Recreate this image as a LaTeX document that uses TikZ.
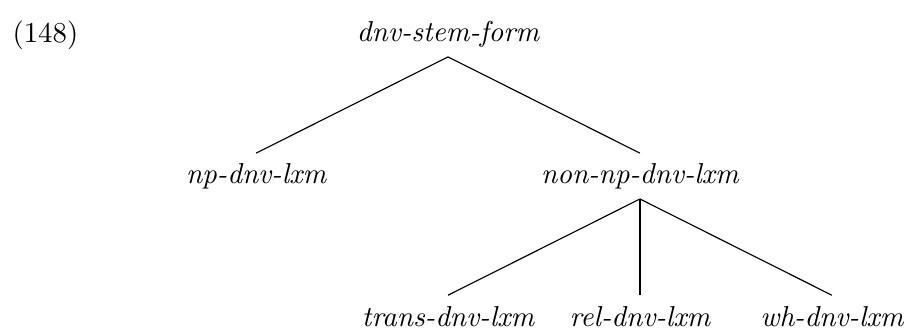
\documentclass[tikz,border=0pt]{standalone}
\usepackage{tikz}
\begin{document}
\begin{tikzpicture}[
    x=0.347pt, y=0.347pt,
    every node/.style={font=\itshape, text height=7pt, text depth=1.5pt, inner sep=3.5pt},
    level distance=49.3pt,
    level 1/.style={sibling distance=133.2pt},
    level 2/.style={sibling distance=66.6pt},
    edge from parent path={(\tikzparentnode.south) -- (\tikzchildnode.north)}
  ]
  \useasboundingbox (0,0) rectangle (907,330);
  \node (num) [anchor=base west, font=\upshape, inner sep=0pt] at (12,287) {(148)};
  \node (root) at (448,296) {dnv-stem-form}
  child {node (0) {np-dnv-lxm}}
  child {node (1) {non-np-dnv-lxm}
    child {node (10) {trans-dnv-lxm}}
    child {node (11) {rel-dnv-lxm}}
    child {node (12) {wh-dnv-lxm}}
  };
\end{tikzpicture}
\end{document}
